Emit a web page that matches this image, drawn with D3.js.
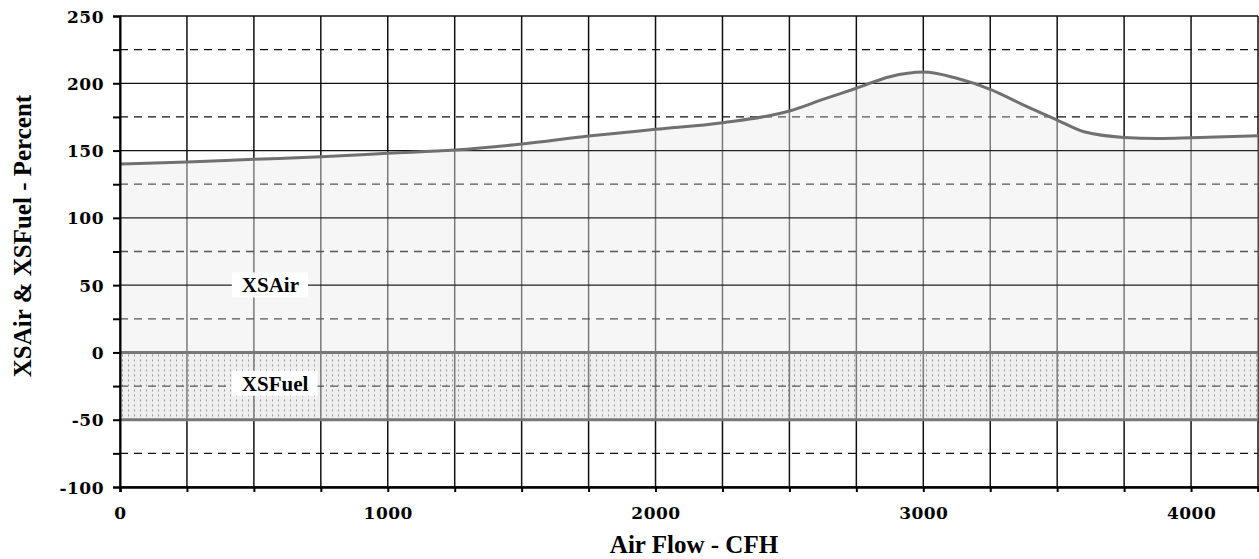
<!DOCTYPE html>
<html><head><meta charset="utf-8">
<script src="https://cdn.jsdelivr.net/npm/d3@7"></script>
<style>body{margin:0;background:#fff}</style>
</head><body><svg id="c" width="1259" height="559"></svg>
<script>
const airFlow = [0,250,500,750,1000,1250,1500,1750,2000,2250,2500,2625,2750,2875,3000,3125,3250,3375,3500,3600,3750,3875,4000,4250];
const xsAir   = [140,141.5,143.5,145.4,148,150.4,154.9,160.8,165.8,170.7,179.4,188,196.3,204.9,208.3,203.7,195.5,183.8,172.7,164,159.8,159,159.5,161];
const xsFuelTop = 0, xsFuelBottom = -50;
const xTickLabels = [0,1000,2000,3000,4000];
const yTickLabels = [250,200,150,100,50,0,-50,-100];
const seriesLabels = ["XSAir","XSFuel"];

const svg = d3.select("#c");
const L=120, R=1258, T=16, B=487;
const x = d3.scaleLinear().domain([0,4250]).range([L,R]);
const y = d3.scaleLinear().domain([-100,250]).range([B,T]);

const defs = svg.append("defs");
const pat = defs.append("pattern").attr("id","dots").attr("patternUnits","userSpaceOnUse")
  .attr("width",6).attr("height",5).attr("x",L+2).attr("y",y(0)+2);
pat.append("rect").attr("width",6).attr("height",5).attr("fill","#efefef");
pat.append("rect").attr("x",0).attr("y",0).attr("width",1).attr("height",2).attr("fill","#9a9a9a");

const area = d3.area().x((d,i)=>x(airFlow[i])).y0(y(0)).y1(d=>y(d)).curve(d3.curveMonotoneX);
const line = d3.line().x((d,i)=>x(airFlow[i])).y(d=>y(d)).curve(d3.curveMonotoneX);

defs.append("clipPath").attr("id","fillclip").call(cp=>{
  cp.append("path").attr("d",area(xsAir));
  cp.append("rect").attr("x",L).attr("y",y(xsFuelTop)).attr("width",R-L).attr("height",y(xsFuelBottom)-y(xsFuelTop));
});

const vTicks = d3.range(0,4251,250);
const hSolid = d3.range(-100,251,50);
const hDash = d3.range(-75,251,50);

function grid(g, vcol, hcol, dcol){
  g.selectAll(".v").data(vTicks).join("line").attr("x1",d=>x(d)).attr("x2",d=>x(d)).attr("y1",T).attr("y2",B)
    .attr("stroke",vcol).attr("stroke-width",1.5);
  g.selectAll(".h").data(hSolid).join("line").attr("x1",L).attr("x2",R).attr("y1",d=>y(d)).attr("y2",d=>y(d))
    .attr("stroke",hcol).attr("stroke-width",1.3);
  g.selectAll(".d").data(hDash).join("line").attr("x1",L).attr("x2",R).attr("y1",d=>y(d)).attr("y2",d=>y(d))
    .attr("stroke",dcol).attr("stroke-width",1.3).attr("stroke-dasharray","8,6");
}
grid(svg.append("g"),"#111","#111","#111");

// fills
svg.append("path").attr("d",area(xsAir)).attr("fill","#f6f6f6");
svg.append("rect").attr("x",L).attr("y",y(xsFuelTop)).attr("width",R-L).attr("height",y(xsFuelBottom)-y(xsFuelTop)).attr("fill","url(#dots)");

// grid inside fills
grid(svg.append("g").attr("clip-path","url(#fillclip)"),"#7a7a7a","#222","#555");

// series lines
svg.append("path").attr("d",line(xsAir)).attr("fill","none").attr("stroke","#707070").attr("stroke-width",3);
[xsFuelTop,xsFuelBottom].forEach(v=>svg.append("line").attr("x1",L).attr("x2",R).attr("y1",y(v)).attr("y2",y(v))
  .attr("stroke","#777").attr("stroke-width",3));

// axes
const tickFont = "'DejaVu Serif', serif";
const ya = svg.append("g").attr("transform",`translate(${L},0)`)
  .call(d3.axisLeft(y).tickValues(d3.range(-100,251,25)).tickSize(7).tickFormat(d=>yTickLabels.includes(d)?d:""));
ya.select(".domain").attr("stroke","#000").attr("stroke-width",2);
ya.selectAll(".tick line").attr("stroke","#000").attr("stroke-width",2);
ya.selectAll(".tick text").attr("x",-16).attr("dy","0.36em").attr("font-family",tickFont).attr("font-weight","bold")
  .attr("font-size",17).attr("letter-spacing","0.5px").attr("fill","#000");

const xa = svg.append("g").attr("transform",`translate(0,${B})`)
  .call(d3.axisBottom(x).tickValues(vTicks).tickSize(5).tickFormat(d=>xTickLabels.includes(d)?d:""));
xa.select(".domain").attr("stroke","#000").attr("stroke-width",2.5);
xa.selectAll(".tick line").attr("stroke","#000").attr("stroke-width",2);
xa.selectAll(".tick text").attr("y",26).attr("dy","0.36em").attr("font-family",tickFont).attr("font-weight","bold")
  .attr("font-size",17).attr("letter-spacing","0.5px").attr("fill","#000");

// axis titles
const titleFont = "'Liberation Serif', 'Times New Roman', serif";
svg.append("text").attr("x",(L+R)/2+5).attr("y",553).attr("text-anchor","middle")
  .attr("font-family",titleFont).attr("font-weight","bold").attr("font-size",25).text("Air Flow - CFH");
svg.append("text").attr("transform","translate(31,236) rotate(-90)").attr("text-anchor","middle")
  .attr("font-family",titleFont).attr("font-weight","bold").attr("font-size",25).text("XSAir & XSFuel - Percent");

// series labels
function label(txt, xv, yv){
  const g = svg.append("g");
  const t = g.append("text").attr("x",x(xv)).attr("y",y(yv)).attr("dy","0.35em")
    .attr("font-family",titleFont).attr("font-weight","bold").attr("font-size",21).text(txt);
  const bb = t.node().getBBox();
  g.insert("rect","text").attr("x",bb.x-10).attr("y",bb.y-1).attr("width",bb.width+19).attr("height",bb.height+1).attr("fill","#fff");
}
label(seriesLabels[0],455,50);
label(seriesLabels[1],455,-23);
</script></body></html>
